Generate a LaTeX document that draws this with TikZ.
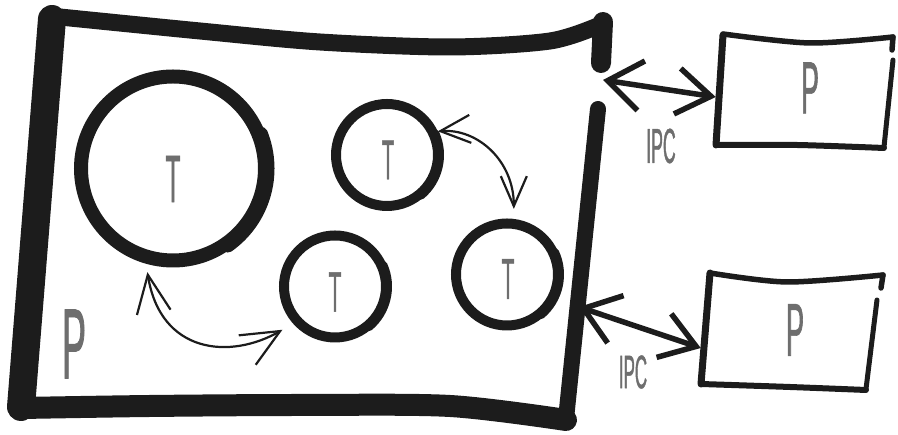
\documentclass[tikz,border=0pt]{standalone}
\usepackage{fontspec}
\usetikzlibrary{arrows.meta,calc}
\newfontfamily\hand[FakeStretch=0.36,FakeBold=0.8]{Liberation Sans}
\definecolor{ink}{HTML}{1C1C1C}
\definecolor{chalk}{HTML}{6E6E6E}
\tikzset{
  heavy/.style={draw=ink, line cap=round, line join=round},
  tcirc/.style={circle, draw=ink, line width=10pt, minimum size=102pt, inner sep=0pt},
  bigcirc/.style={tcirc, line width=14pt, minimum size=184pt},
  lbl/.style={text=chalk, inner sep=0pt, font=\hand},
  arr/.style={draw=ink, line width=2.2pt, line cap=round,
    {Straight Barb[length=30pt,width=28pt]}-{Straight Barb[length=30pt,width=26pt]}},
  bigarr/.style={draw=ink, line width=2.2pt, line cap=round,
    {Straight Barb[length=38pt,width=34pt]}-{Straight Barb[length=38pt,width=34pt]}},
  ipc/.style={draw=ink, line width=5.5pt, line cap=round,
    {Straight Barb[length=34pt,width=50pt]}-{Straight Barb[length=34pt,width=46pt]}},
  hold/.style={inner sep=0pt, minimum width=170pt, minimum height=112pt},
}
\begin{document}
\begin{tikzpicture}[x=1pt,y=1pt]
\useasboundingbox (0,0) rectangle (898,435);

% ---- main process box (hand drawn strokes)
\draw[heavy, line width=28pt] (52,416) -- (21,28);
\draw[heavy, line width=17pt] plot[smooth] coordinates {(50,419) (200,404) (320,393) (450,388) (550,394) (600,410)};
\draw[heavy, line width=20pt] (603,413) -- (601,372);
\draw[heavy, line width=16pt] (598,326) -- (566,16);
\draw[heavy, line width=22pt] plot[smooth] coordinates {(22,27) (150,29) (300,30) (450,29) (566,15)};
\coordinate (mbTop) at (603,355);
\coordinate (mbBot) at (579,128);

\node[lbl] (bigP) at (74,91) {\fontsize{100}{100}\selectfont P};

% ---- threads
\node[bigcirc] (t1) at (173,266.5) {};
\node[tcirc] (t2) at (387,280) {};
\node[tcirc] (t3) at (335,148.5) {};
\node[tcirc] (t4) at (507,160.5) {};

\draw[heavy, line width=11pt] ([shift={(22:96)}]t1.center) arc[start angle=22, end angle=-55, radius=96];
\draw[heavy, line width=8pt] ([shift={(24:53)}]t2.center) arc[start angle=24, end angle=-50, radius=53];
\draw[heavy, line width=8pt] ([shift={(24:53)}]t3.center) arc[start angle=24, end angle=-50, radius=53];
\draw[heavy, line width=8pt] ([shift={(25:53)}]t4.center) arc[start angle=25, end angle=-50, radius=53];

\node[lbl] (t1l) at (173,256) {\fontsize{67}{67}\selectfont T};
\node[lbl] (t2l) at (388,275) {\fontsize{56}{56}\selectfont T};
\node[lbl] (t3l) at (335,143) {\fontsize{57}{57}\selectfont T};
\node[lbl] (t4l) at (508,156) {\fontsize{58}{58}\selectfont T};

\draw[arr] (t2.25) .. controls +(40,3) and +(0,48) .. ([yshift=10pt]t4.83);
\draw[bigarr] ([yshift=-8pt]t1.255) .. controls +(13,-82) and +(-52,-30) .. ([shift={(-9pt,-8pt)}]t3.219);

% ---- other processes
\node[hold] (pb1) at (803,344) {};
\node[hold] (pb2) at (788,104) {};
\node[lbl] (pb1l) at (810,347) {\fontsize{74}{74}\selectfont P};
\node[lbl] (pb2l) at (795,105) {\fontsize{75}{75}\selectfont P};

\draw[heavy, line width=7pt] (723,400) -- (716,290);
\draw[heavy, line width=5.5pt] plot[smooth] coordinates {(723,401) (810,392) (893,398)};
\draw[heavy, line width=5.5pt] (893,398) -- (892,385);
\draw[heavy, line width=5pt] (893,375) -- (884,288);
\draw[heavy, line width=6pt] plot[smooth] coordinates {(716,290) (797,290) (884,287)};

\draw[heavy, line width=7pt] (710,162) -- (701,51);
\draw[heavy, line width=5.5pt] plot[smooth] coordinates {(710,162) (787,153) (883,160)};
\draw[heavy, line width=5.5pt] (883,160) -- (881,147);
\draw[heavy, line width=5pt] (877,135) -- (866,46);
\draw[heavy, line width=6pt] plot[smooth] coordinates {(701,51) (790,48) (866,45)};

% ---- IPC
\draw[ipc] (mbTop) -- ([shift={(-2pt,-6pt)}]pb1.west);
\draw[ipc] (mbBot) -- ([shift={(-2pt,-17pt)}]pb2.west);
\node[lbl] (ipc1) at (661,289) {\fontsize{49}{49}\selectfont IPC};
\node[lbl] (ipc2) at (633,63) {\fontsize{47}{47}\selectfont IPC};
\end{tikzpicture}
\end{document}
